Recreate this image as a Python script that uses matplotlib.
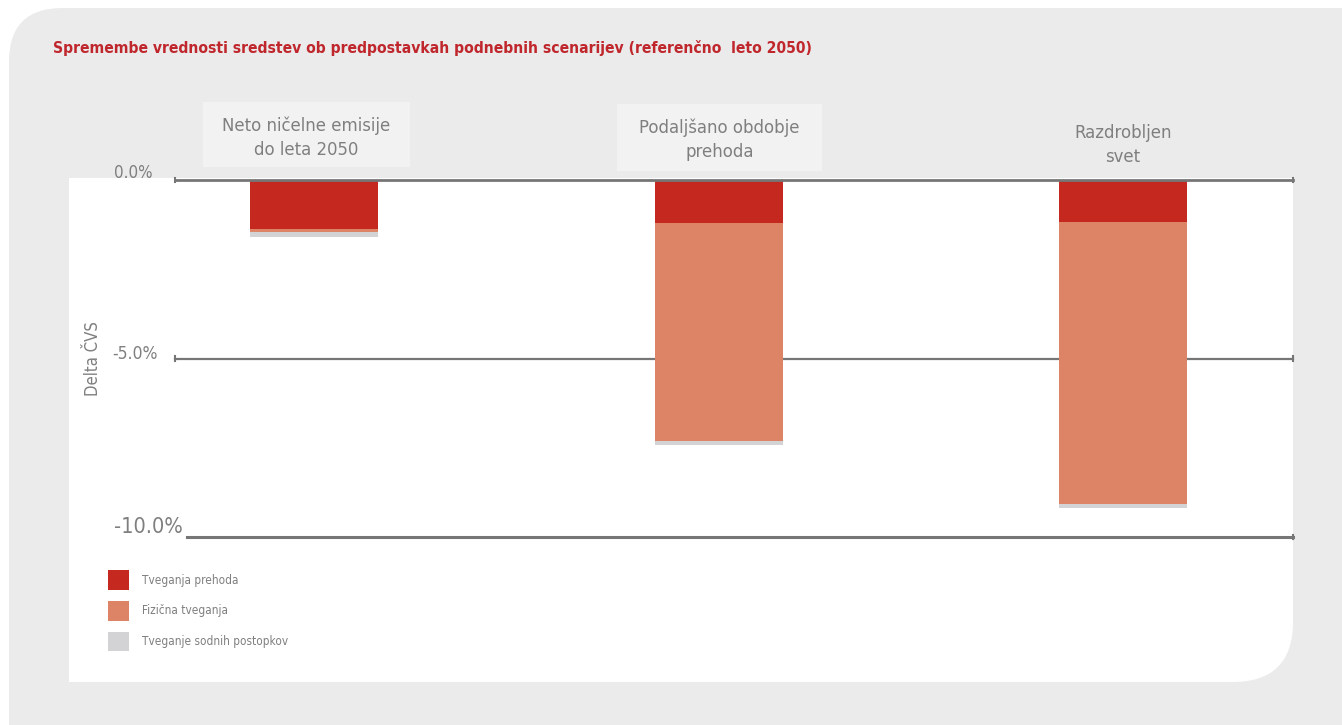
import numpy as np
import matplotlib
matplotlib.use("Agg")
import matplotlib.pyplot as plt
from matplotlib.patches import FancyBboxPatch, Rectangle, Patch
from matplotlib import font_manager

# Values read as percentage change of asset value (delta ČVS), reference year 2050
scenarios = ["Neto ničelne emisije\ndo leta 2050", "Podaljšano obdobje\nprehoda", "Razdrobljen\nsvet"]
transition_risk = [-1.37, -1.20, -1.18]
physical_risk = [-0.10, -6.10, -7.89]
litigation_risk = [-0.14, -0.11, -0.11]
series_labels = ["Tveganja prehoda", "Fizična tveganja", "Tveganje sodnih postopkov"]
yticks = [0.0, -5.0, -10.0]
ytick_labels = ["0.0%", "-5.0%", "-10.0%"]
title = "Spremembe vrednosti sredstev ob predpostavkah podnebnih scenarijev (referenčno  leto 2050)"

RED = "#c5281f"
ORANGE = "#dd8467"
LGRAY = "#d3d3d5"
TXT = "#7f7f7f"
BG = "#ebebeb"

# look for a condensed face; fall back to plain Liberation Sans
files = [f.fname for f in font_manager.fontManager.ttflist]


def find_face(bold):
    for key in ["LiberationSansNarrow", "DejaVuSansCondensed", "RobotoCondensed",
                "OpenSansCondensed", "NotoSans-Condensed", "NotoSansCondensed"]:
        for fn in files:
            base = fn.split("/")[-1].replace(" ", "")
            if key in base:
                is_bold = "Bold" in base
                if is_bold == bold and "Italic" not in base and "Oblique" not in base:
                    return fn
    return None


reg_file = find_face(False)
bold_file = find_face(True)
if reg_file:
    FP = dict(fontproperties=font_manager.FontProperties(fname=reg_file))
    FPB = dict(fontproperties=font_manager.FontProperties(fname=bold_file or reg_file))
    scale = 1.0
else:
    FP = dict(family=["Liberation Sans", "DejaVu Sans"])
    FPB = dict(family=["Liberation Sans", "DejaVu Sans"], fontweight="bold")
    scale = 0.87

W, H = 1342, 725
fig = plt.figure(figsize=(W / 100, H / 100), dpi=100)
fig.patch.set_facecolor("white")


def fx(x):
    return x / W


def fy(y):
    return 1 - y / H


def box(x0, y0, x1, y1, **kw):
    # rectangle given in pixel coordinates (top-left origin)
    return Rectangle((fx(x0), fy(y1)), fx(x1 - x0), (y1 - y0) / H,
                     transform=fig.transFigure, zorder=-10, **kw)


# grey panel, rounded only at the top-left corner (other corners fall outside the figure)
panel = FancyBboxPatch((fx(9), fy(800)), fx(1500), 792 / H,
                       boxstyle="round,pad=0,rounding_size=0.04",
                       transform=fig.transFigure, facecolor=BG, edgecolor="none",
                       mutation_aspect=W / H, zorder=-20)
fig.patches.append(panel)

# white plotting area, rounded only at the bottom-right corner
inner = FancyBboxPatch((fx(69), fy(682)), fx(1293 - 69), (682 - 178) / H,
                       boxstyle="round,pad=0,rounding_size=0.045",
                       transform=fig.transFigure, facecolor="white", edgecolor="none",
                       mutation_aspect=W / H, zorder=-15)
fig.patches.append(inner)
for r in [box(69, 178, 169, 278), box(1193, 178, 1293, 278), box(69, 582, 169, 682)]:
    r.set_facecolor("white")
    r.set_edgecolor("none")
    fig.patches.append(r)

# scenario label boxes
fig.patches.append(box(203, 102, 410, 167, facecolor="#f2f2f2", edgecolor="none"))
fig.patches.append(box(617, 104, 822, 171, facecolor="#f2f2f2", edgecolor="none"))

fig.text(fx(53), fy(48), title, color="#c0272d", fontsize=11.25 * scale,
         fontweight="bold", va="center", ha="left", **FPB)

ax = fig.add_axes([fx(175), fy(537), fx(1293 - 175), (537 - 180) / H])
ax.set_facecolor("none")
for s in ax.spines.values():
    s.set_visible(False)
ax.set_xticks([])
ax.set_yticks([])
ax.set_xlim(-0.344, 2.42)
ax.set_ylim(-10, 0)

x = np.arange(len(scenarios))
t = np.array(transition_risk)
p = np.array(physical_risk)
l = np.array(litigation_risk)
bw = 0.316
ax.bar(x, t, bw, color=RED, zorder=3)
ax.bar(x, p, bw, bottom=t, color=ORANGE, zorder=3)
ax.bar(x, l, bw, bottom=t + p, color=LGRAY, zorder=2)

# gridlines with small end ticks
ytr = ax.get_yaxis_transform()
ax.axhline(0, color="#767676", lw=2, zorder=4, clip_on=False)
ax.axhline(-5, color="#767676", lw=1.6, zorder=1, clip_on=False)
ax.axhline(-10, xmin=0.011, color="#767676", lw=2.2, zorder=1, clip_on=False)
for yv, xs in [(0, [0, 1]), (-5, [0, 1]), (-10, [1])]:
    for xe in xs:
        ax.plot([xe, xe], [yv - 0.07, yv + 0.07], color="#767676", lw=1.5,
                transform=ytr, clip_on=False)

# tick labels
for yv, lab, xo, dy, fs in zip(yticks, ytick_labels, [-0.0197, -0.0152, 0.007],
                               [0.2, 0.14, 0.28], [12.2, 12.6, 15.6]):
    ax.text(xo, yv + dy, lab, transform=ytr, ha="right", va="center",
            color=TXT, fontsize=fs * scale, clip_on=False, **FP)

fig.text(fx(93), fy(359), "Delta ČVS", rotation=90, color=TXT, fontsize=12 * scale,
         ha="center", va="center", **FP)

# scenario names above the bars (first two centred in their grey boxes)
label_dx = [-8, 1, 0]
label_y = [138, 140, 145]
for xi, name, dx, ly in zip(x, scenarios, label_dx, label_y):
    xpix = ax.transData.transform((xi, 0))[0] + dx
    fig.text(xpix / W, fy(ly), name, color=TXT, fontsize=13.2 * scale, ha="center",
             va="center", linespacing=1.4, **FP)

handles = [Patch(facecolor=c, edgecolor="none") for c in [RED, ORANGE, LGRAY]]
leg = fig.legend(handles, series_labels, loc="upper left",
                 bbox_to_anchor=(fx(108), fy(570)), frameon=False, fontsize=8.5 * scale,
                 handlelength=1.78, handleheight=2.2, labelspacing=0.93,
                 handletextpad=1.1, labelcolor=TXT, borderaxespad=0, borderpad=0)
if reg_file:
    for txt in leg.get_texts():
        txt.set_fontproperties(FP["fontproperties"])
        txt.set_fontsize(8.5)

fig.savefig("out.png", dpi=100)
